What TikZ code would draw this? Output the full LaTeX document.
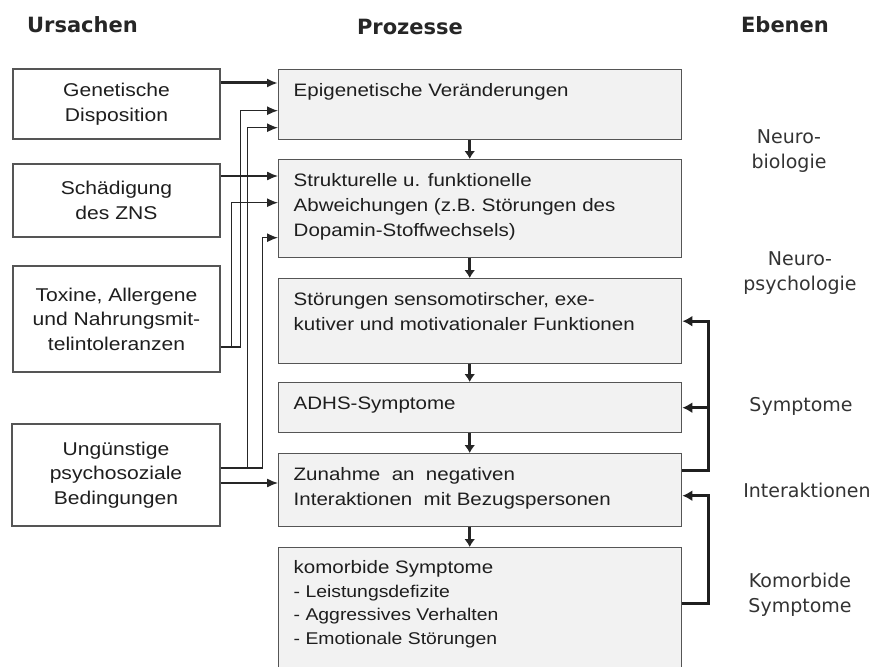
\documentclass[tikz,border=0pt]{standalone}
\usepackage{fontspec}
\setmainfont{Liberation Sans}[FakeStretch=1.14]
\newfontfamily\hdrfont{DejaVu Sans}
\newfontfamily\lvlfont{DejaVu Sans}
\usetikzlibrary{arrows.meta,calc}

\definecolor{boxline}{HTML}{555555}
\definecolor{boxfill}{HTML}{F2F2F2}
\definecolor{lineclr}{HTML}{262626}
\definecolor{txt}{HTML}{1E1E1E}

\newcommand\proctext[2]{\parbox[t][#1][t]{403pt}{\leftskip=15pt\rightskip=0pt plus 1fil\parfillskip=0pt plus 1fil\fontsize{18}{25}\selectfont\rule{0pt}{27pt}#2}}

\tikzset{
  cause/.style={draw=boxline, line width=1.4pt, fill=white, inner sep=0pt, align=center,
    font=\fontsize{18.5}{24.5}\selectfont, text=txt},
  proc/.style={draw=boxline, line width=1.4pt, fill=boxfill, inner sep=0pt, anchor=north west,
    minimum width=403pt, text=txt},
  conn/.style={draw=lineclr, line width=1.3pt, -{Latex[length=11pt,width=9pt]}},
  boldconn/.style={conn, line width=3pt},
  downarr/.style={draw=lineclr, line width=2.8pt, -{Latex[length=8pt,width=11pt]}},
  fb/.style={draw=black!88, line width=3pt, -{Latex[length=10pt,width=11pt]}},
  hdr/.style={font=\hdrfont\bfseries\fontsize{21}{25}\selectfont, text=black!85, anchor=base, inner sep=0pt},
  lvl/.style={font=\lvlfont\fontsize{19}{25}\selectfont, text=black!80, anchor=base, inner sep=0pt},
}

\begin{document}
\begin{tikzpicture}[x=1pt,y=-1pt]
\clip (0,0) rectangle (877,666);
\fill[white] (0,0) rectangle (877,666);

% headers
\node[hdr] (hU) at (82.5,33) {Ursachen};
\node[hdr] (hP) at (410,35) {Prozesse};
\node[hdr] (hE) at (785,33) {Ebenen};

% causes
\node[cause, minimum width=207pt, minimum height=70pt] (gen) at (116.5,104) {Genetische\\Disposition};
\node[cause, minimum width=207pt, minimum height=73pt] (zns) at (116.5,200.5) {Schädigung\\des ZNS};
\node[cause, minimum width=207pt, minimum height=106pt] (tox) at (116.5,319) {Toxine, Allergene\\und Nahrungsmit-\\telintoleranzen};
\node[cause, minimum width=208pt, minimum height=102pt] (psy) at (116,475) {Ungünstige\\psychosoziale\\Bedingungen};

% processes
\node[proc, minimum height=70pt] (epi) at (278,69) {\proctext{70pt}{Epigenetische Veränderungen}};
\node[proc, minimum height=98pt] (str) at (278,159) {\proctext{98pt}{Strukturelle u. funktionelle\\Abweichungen (z.B. Störungen des\\Dopamin-Stoffwechsels)}};
\node[proc, minimum height=85pt] (sens) at (278,278) {\proctext{85pt}{Störungen sensomotirscher, exe-\\kutiver und motivationaler Funktionen}};
\node[proc, minimum height=50pt] (adhs) at (278,382) {\proctext{50pt}{ADHS-Symptome}};
\node[proc, minimum height=73pt] (inter) at (278,453) {\proctext{73pt}{Zunahme \ an \ negativen\\Interaktionen \ mit Bezugspersonen}};
\node[proc, minimum height=143pt] (komo) at (278,547) {\parbox[t][143pt][t]{403pt}{\leftskip=15pt\rightskip=0pt plus 1fil\parfillskip=0pt plus 1fil\fontsize{18}{25}\selectfont\rule{0pt}{26pt}komorbide Symptome\par
\fontsize{17}{23.5}\selectfont - Leistungsdefizite\\- Aggressives Verhalten\\- Emotionale Störungen\par}};

% levels
\node[lvl] (lNB) at (789,143) {\begin{tabular}[t]{@{}c@{}}Neuro-\\biologie\end{tabular}};
\node[lvl] (lNP) at (800,265) {\begin{tabular}[t]{@{}c@{}}Neuro-\\psychologie\end{tabular}};
\node[lvl] (lSy) at (801,411) {Symptome};
\node[lvl] (lIn) at (807,497) {Interaktionen};
\node[lvl] (lKo) at (800,587) {\begin{tabular}[t]{@{}c@{}}Komorbide\\Symptome\end{tabular}};

% down arrows
\draw[downarr] ([xshift=-10.5pt]epi.south) -- ([xshift=-10.5pt]str.north);
\draw[downarr] ([xshift=-10.5pt]str.south) -- ([xshift=-10.5pt]sens.north);
\draw[downarr] ([xshift=-10.5pt]sens.south) -- ([xshift=-10.5pt]adhs.north);
\draw[downarr] ([xshift=-10.5pt]adhs.south) -- ([xshift=-10.5pt]inter.north);
\draw[downarr] ([xshift=-10.5pt]inter.south) -- ([xshift=-10.5pt]komo.north);

% causes -> processes
\draw[boldconn] ([yshift=21pt]gen.east) -- ([yshift=21pt]gen.east -| epi.west);
\draw[conn] ([yshift=24.5pt]zns.east) -- ([yshift=24.5pt]zns.east -| str.west);
\draw[conn] ([yshift=-28pt]tox.east) -- ++(20,0) |- ([yshift=-6pt]epi.west);
\draw[conn] ([yshift=-28pt]tox.east) -- ++(11,0) |- ([yshift=6pt]str.west);
\draw[conn] ([yshift=7pt]psy.east) -- ++(27,0) |- ([yshift=-23pt]epi.west);
\draw[conn] ([yshift=7pt]psy.east) -- ++(42,0) |- ([yshift=-29pt]str.west);
\draw[conn] ([yshift=-8pt]psy.east) -- ([yshift=-8pt]psy.east -| inter.west);

% feedback loops
\coordinate (fbx) at (708,0);
\coordinate (inIn) at ([yshift=-5.5pt]inter.east);
\draw[fb] ([yshift=19.5pt]inter.east) -| (fbx |- sens.east) -- (sens.east);
\draw[fb] (fbx |- adhs.east) -- (adhs.east);
\draw[fb] ([yshift=15.5pt]komo.east) -| (fbx |- inIn) -- (inIn);
\end{tikzpicture}
\end{document}
